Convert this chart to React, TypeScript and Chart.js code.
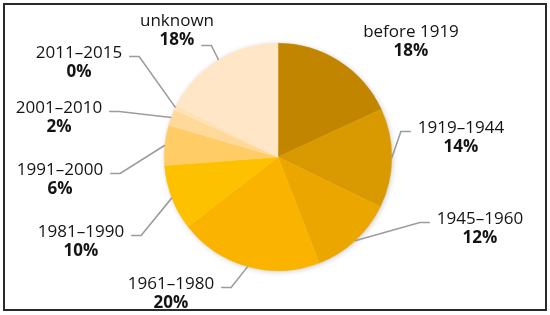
import React, { useEffect, useRef } from "react";
import { Chart, ArcElement, PieController } from "chart.js";

Chart.register(ArcElement, PieController);

const categories = [
  "before 1919",
  "1919–1944",
  "1945–1960",
  "1961–1980",
  "1981–1990",
  "1991–2000",
  "2001–2010",
  "2011–2015",
  "unknown",
];
const shares = [18.1, 14.1, 11.9, 20.4, 9.3, 5.7, 2.3, 0.7, 17.5];
const percentLabels = ["18%", "14%", "12%", "20%", "10%", "6%", "2%", "0%", "18%"];
const sliceColors = [
  "#C18500",
  "#D89A00",
  "#ECA600",
  "#FAB400",
  "#FDC100",
  "#FFCC66",
  "#FFD99A",
  "#FFE2B5",
  "#FFE6C6",
];
// label text centre, px from the pie centre
const labelOffsets: [number, number][] = [
  [133, -124.5],
  [183, -28.5],
  [202, 62.5],
  [-107, 127.5],
  [-197, 75.5],
  [-218, 13.5],
  [-219, -48.5],
  [-199, -103.5],
  [-101, -135.5],
];
// 0 = no leader line, 1 = from first text line, 2 = from percentage line
const leaderFrom = [0, 1, 1, 1, 1, 1, 1, 1, 2];

const FONT = "'Open Sans', 'DejaVu Sans', sans-serif";

const labelPlugin = {
  id: "outerLabels",
  beforeDatasetsDraw(chart: any) {
    const meta = chart.getDatasetMeta(0);
    const el = meta.data[0];
    if (!el) return;
    const { x, y, outerRadius } = el.getProps(["x", "y", "outerRadius"], true);
    const ctx = chart.ctx;
    ctx.save();
    ctx.shadowColor = "rgba(0,0,0,0.28)";
    ctx.shadowBlur = 6;
    ctx.shadowOffsetX = 1;
    ctx.shadowOffsetY = 1;
    ctx.fillStyle = "#ffffff";
    ctx.beginPath();
    ctx.arc(x, y, outerRadius - 1, 0, Math.PI * 2);
    ctx.fill();
    ctx.restore();
  },
  afterDatasetsDraw(chart: any) {
    const ctx = chart.ctx;
    const meta = chart.getDatasetMeta(0);
    meta.data.forEach((arc: any, i: number) => {
      const { x, y, startAngle, endAngle, outerRadius } = arc.getProps(
        ["x", "y", "startAngle", "endAngle", "outerRadius"],
        true
      );
      const mid = (startAngle + endAngle) / 2;
      const ax = x + Math.cos(mid) * outerRadius;
      const ay = y + Math.sin(mid) * outerRadius;
      const [dx, dy] = labelOffsets[i];
      const cx = x + dx;
      const cy = y + dy;

      ctx.save();
      ctx.textAlign = "center";
      ctx.textBaseline = "middle";
      ctx.fillStyle = "#141414";
      ctx.font = `17px ${FONT}`;
      ctx.fillText(categories[i], cx, cy);
      const w1 = ctx.measureText(categories[i]).width;
      ctx.font = `bold 17px ${FONT}`;
      ctx.fillText(percentLabels[i], cx, cy + 19);
      const w2 = ctx.measureText(percentLabels[i]).width;

      if (leaderFrom[i] > 0) {
        const w = leaderFrom[i] === 1 ? w1 : w2;
        const ly = leaderFrom[i] === 1 ? cy + 3 : cy + 24;
        const dir = dx < 0 ? 1 : -1;
        const sx = cx + dir * (w / 2 + 7);
        const ex = sx + dir * 10;
        ctx.strokeStyle = "#9c9c9c";
        ctx.lineWidth = 1.6;
        ctx.beginPath();
        ctx.moveTo(sx, ly);
        ctx.lineTo(ex, ly);
        ctx.lineTo(ax, ay);
        ctx.stroke();
      }
      ctx.restore();
    });
  },
};

export default function App() {
  const ref = useRef<HTMLCanvasElement | null>(null);
  useEffect(() => {
    if (!ref.current) return;
    const chart = new Chart(ref.current, {
      type: "pie",
      data: {
        labels: categories,
        datasets: [
          {
            data: shares,
            backgroundColor: sliceColors,
            borderColor: sliceColors,
            borderWidth: 0.5,
          },
        ],
      },
      options: {
        animation: false,
        responsive: false,
        devicePixelRatio: 1,
        layout: { padding: { left: 164, right: 158, top: 43, bottom: 44 } },
        plugins: {
          legend: { display: false },
          tooltip: { enabled: false },
        },
      },
      plugins: [labelPlugin],
    });
    return () => chart.destroy();
  }, []);
  return (
    <div
      style={{
        position: "fixed",
        left: 0,
        top: 0,
        width: 550,
        height: 315,
        background: "#ffffff",
      }}
    >
      <canvas ref={ref} width={550} height={315} style={{ position: "absolute", left: 0, top: 0 }} />
      <div
        style={{
          position: "absolute",
          left: 3,
          top: 3,
          width: 544,
          height: 308,
          boxSizing: "border-box",
          border: "2px solid #2a2a2a",
          pointerEvents: "none",
        }}
      />
    </div>
  );
}
